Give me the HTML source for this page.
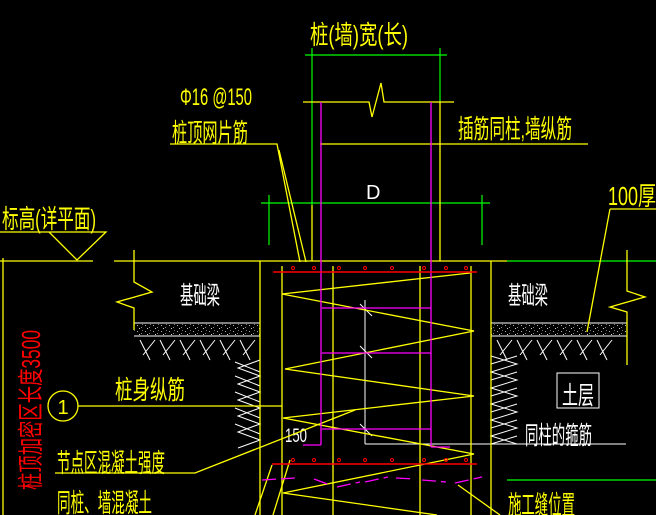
<!DOCTYPE html>
<html><head><meta charset="utf-8"><style>
html,body{margin:0;padding:0;background:#000;}
svg{display:block}
text{font-family:"Liberation Sans","Noto Sans CJK SC",sans-serif;}
</style></head><body>
<svg width="656" height="515" viewBox="0 0 656 515" xmlns="http://www.w3.org/2000/svg">
<defs>
<pattern id="sp" width="8" height="6" patternUnits="userSpaceOnUse">
<rect x="1" y="1" width="1" height="1" fill="#aaa"/><rect x="5" y="3" width="1" height="1" fill="#888"/><rect x="3" y="4" width="1" height="1" fill="#ccc"/><rect x="6" y="0" width="1" height="1" fill="#777"/>
</pattern>
</defs>
<rect width="656" height="515" fill="#000"/>
<g fill="#ff0" font-size="26">
<text x="310" y="44" textLength="98" lengthAdjust="spacingAndGlyphs">桩(墙)宽(长)</text>
<text x="180" y="105" textLength="72" lengthAdjust="spacingAndGlyphs" font-size="24">Φ16 @150</text>
<text x="172" y="142" textLength="76" lengthAdjust="spacingAndGlyphs">桩顶网片筋</text>
<text x="2" y="228" textLength="94" lengthAdjust="spacingAndGlyphs">标高(详平面)</text>
<text x="458" y="138" textLength="114" lengthAdjust="spacingAndGlyphs">插筋同柱,墙纵筋</text>
<text x="608" y="205" textLength="48" lengthAdjust="spacingAndGlyphs">100厚</text>
<text x="115" y="399" textLength="70" lengthAdjust="spacingAndGlyphs">桩身纵筋</text>
<text x="57" y="472" textLength="108" lengthAdjust="spacingAndGlyphs">节点区混凝土强度</text>
<text x="57" y="512" textLength="95" lengthAdjust="spacingAndGlyphs">同桩、墙混凝土</text>
<text x="508" y="514" textLength="67" lengthAdjust="spacingAndGlyphs">施工缝位置</text>
<text x="63" y="414" font-size="20" text-anchor="middle">1</text>
</g>
<g fill="#fff" font-size="25">
<text x="180" y="304" textLength="40" lengthAdjust="spacingAndGlyphs">基础梁</text>
<text x="508" y="304" textLength="40" lengthAdjust="spacingAndGlyphs">基础梁</text>
<text x="562" y="404" textLength="32" lengthAdjust="spacingAndGlyphs">土层</text>
<text x="525" y="444" textLength="67" lengthAdjust="spacingAndGlyphs">同柱的箍筋</text>
<text x="366" y="199" font-size="20">D</text>
<text x="285" y="442" font-size="19" textLength="22" lengthAdjust="spacingAndGlyphs">150</text>
</g>
<text transform="translate(40,490) rotate(-90)" fill="#f00" font-size="26" textLength="160" lengthAdjust="spacingAndGlyphs">桩顶加密区长度3500</text>

<rect x="134" y="323" width="126" height="13" fill="url(#sp)"/>
<rect x="491" y="323" width="136" height="13" fill="url(#sp)"/>
<g stroke="#fff" stroke-width="1" fill="none">
<line x1="134" y1="323" x2="260" y2="323"/><line x1="134" y1="336" x2="260" y2="336"/>
<line x1="491" y1="323" x2="627" y2="323"/><line x1="491" y1="336" x2="627" y2="336"/>
<path d="M140 340l10 20M155 340l-12 15M160 340l10 20M175 340l-12 15M180 340l10 20M195 340l-12 15M200 340l10 20M215 340l-12 15M220 340l10 20M235 340l-12 15M240 340l10 20M255 340l-12 15"/>
<path d="M497 340l10 20M512 340l-12 15M517 340l10 20M532 340l-12 15M537 340l10 20M552 340l-12 15M557 340l10 20M572 340l-12 15M577 340l10 20M592 340l-12 15M597 340l10 20M612 340l-12 15"/>
<path d="M260 360l-22 8l22 8l-22 8l22 8l-22 8l22 8l-22 8l22 8l-22 8l22 8l-22 8"/>
<path d="M235 362l25 10M235 376l25 10M235 392l25 10M235 408l25 10M235 424l25 10"/>
<path d="M491 356l26 8l-26 8l26 8l-26 8l26 8l-26 8l26 8l-26 8l26 8l-26 8l26 8"/>
<path d="M491 364l26 -8M491 380l26-8M491 396l26-8M491 412l26-8M491 428l26-8M491 444l26-8"/>
<rect x="557" y="373" width="42" height="35"/>
<line x1="365" y1="300" x2="365" y2="444"/><line x1="365" y1="444" x2="626" y2="444"/>
<line x1="360" y1="304" x2="372" y2="316"/><line x1="360" y1="346" x2="372" y2="358"/><line x1="360" y1="424" x2="372" y2="436"/>
</g>

<g stroke="#0f0" stroke-width="1.2" fill="none">
<line x1="305" y1="55" x2="447" y2="55"/>
<line x1="312" y1="48" x2="312" y2="205"/>
<line x1="440" y1="48" x2="440" y2="102"/>
<line x1="261" y1="203" x2="490" y2="203"/>
<line x1="269" y1="195" x2="269" y2="245"/>
<line x1="482" y1="195" x2="482" y2="245"/>
<line x1="507" y1="261" x2="656" y2="261"/>
<line x1="507" y1="480" x2="656" y2="480"/>
</g>

<g stroke="#ff0" stroke-width="1.3" fill="none">
<path d="M303 102H369L372 117L381 83L384 102H454"/>
<line x1="440" y1="102" x2="440" y2="261"/>
<line x1="312" y1="205" x2="312" y2="261"/>
<path d="M170 144H277L300 262M279 150L306 262"/>
<line x1="320" y1="144" x2="588" y2="144"/>
<path d="M0 232H106L77 260L49 232"/>
<path d="M610 209H656M610 209L587 332"/>
<path d="M0 261H93M114 261H507"/>
<line x1="3" y1="258" x2="3" y2="515"/>
<path d="M134 250V282L152 292L117 302L134 308V330"/>
<path d="M627 250V291L645 297L610 307L627 312V365"/>
<line x1="260" y1="261" x2="260" y2="515"/>
<line x1="282" y1="266" x2="282" y2="515"/>
<line x1="333" y1="266" x2="333" y2="515"/>
<line x1="420" y1="266" x2="420" y2="515"/>
<line x1="471" y1="266" x2="471" y2="515"/>
<line x1="491" y1="261" x2="491" y2="515"/>
<circle cx="63" cy="406" r="15"/>
<line x1="78" y1="406" x2="282" y2="406"/>
<path d="M55 473H195L355 410"/>
<path d="M282 294L470 273M282 294L474 331L285 369L474 396L283 418L474 454L283 493L437 515"/>
<path d="M272 465L255 515M290 460L273 515M458 485L500 515"/>
</g>

<g stroke="#f0f" stroke-width="1.3" fill="none">
<line x1="321" y1="102" x2="321" y2="445"/><line x1="303" y1="445" x2="321" y2="445"/>
<line x1="431" y1="102" x2="431" y2="447"/><line x1="431" y1="447" x2="450" y2="447"/>
<line x1="322" y1="308" x2="431" y2="308"/>
<line x1="322" y1="353" x2="431" y2="353"/>
<line x1="322" y1="429" x2="431" y2="429"/>
<path d="M262 480L295 478M314 479L330 485M337 487L360 482M365 482L388 477M396 478L415 479M422 480L446 482M455 483L482 477" stroke-dasharray="14 5"/>
</g>

<g stroke="#f00" stroke-width="1.5" fill="none">
<line x1="273" y1="272" x2="477" y2="272"/>
<line x1="272" y1="464" x2="477" y2="464"/>
</g>
<g stroke="#f00" stroke-width="1" fill="none">
<circle cx="293" cy="268" r="1.5"/><circle cx="314" cy="268" r="1.5"/><circle cx="339" cy="268" r="1.5"/><circle cx="365" cy="268" r="1.5"/><circle cx="392" cy="268" r="1.5"/><circle cx="424" cy="268" r="1.5"/><circle cx="446" cy="268" r="1.5"/><circle cx="466" cy="268" r="1.5"/>
<circle cx="293" cy="460" r="1.5"/><circle cx="314" cy="460" r="1.5"/><circle cx="339" cy="460" r="1.5"/><circle cx="365" cy="460" r="1.5"/><circle cx="392" cy="460" r="1.5"/><circle cx="424" cy="460" r="1.5"/><circle cx="446" cy="460" r="1.5"/><circle cx="466" cy="460" r="1.5"/>
</g>
</svg>
</body></html>
